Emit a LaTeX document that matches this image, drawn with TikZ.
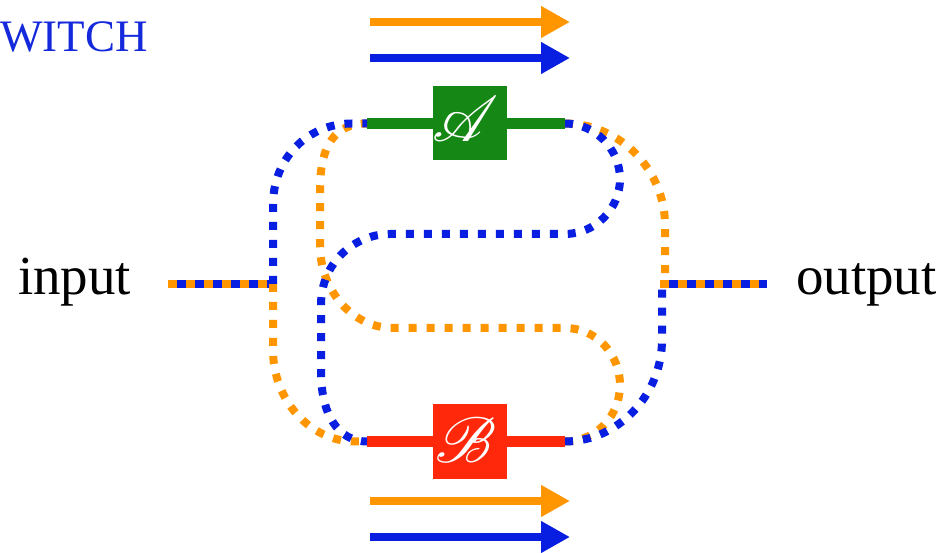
\documentclass[tikz,border=0pt]{standalone}
\usepackage{fontspec}
\setmainfont{Liberation Serif}
\usepackage{mathrsfs}
\usetikzlibrary{arrows.meta}

\definecolor{qblue}{RGB}{8,30,225}
\definecolor{qorange}{RGB}{255,150,0}
\definecolor{qgreen}{RGB}{20,135,20}
\definecolor{qred}{RGB}{255,40,10}
\definecolor{titleblue}{RGB}{20,40,220}

\newcommand{\gateletter}[1]{\scalebox{6.4}{$\mathscr{#1}$}}

\tikzset{
  dotwire/.style={line width=8pt, dash pattern=on 8pt off 10pt},
  bluewire/.style={dotwire, draw=qblue},
  orangewire/.style={dotwire, draw=qorange},
  gatebox/.style={rectangle, minimum size=74pt, inner sep=0pt, text=white,
    font=\normalsize},
  gatewire/.style={line width=11pt},
  flow/.style={line width=8pt, -{Triangle[length=29pt,width=30pt]}},
  wordtext/.style={anchor=base west, inner sep=0pt, font=\fontsize{55}{55}\selectfont},
}

\begin{document}
\begin{tikzpicture}[x=1pt, y=-1pt]
  \useasboundingbox (0,0) rectangle (946,553);
  \fill[white] (0,0) rectangle (946,553);

  % title, partly off the left edge
  \node[anchor=base west, inner sep=0pt, text=titleblue,
        font=\fontsize{45}{45}\selectfont] (title) at (0,52) {WITCH};

  % wire ends of the two gates and the junctions
  \coordinate (Aw) at (367,123.5);
  \coordinate (Ae) at (565,123.5);
  \coordinate (Bw) at (367,441.5);
  \coordinate (Be) at (565,441.5);
  \coordinate (inS) at (168,284);
  \coordinate (inJ) at (273,284);
  \coordinate (outS) at (660,284);
  \coordinate (outE) at (767,284);
  \coordinate (outJb) at (662,284);
  \coordinate (outJo) at (665,284);

  % gate wires
  \draw[gatewire, qgreen] (Aw) -- (Ae);
  \draw[gatewire, qred] (Bw) -- (Be);

  % gates
  \node[gatebox, fill=qgreen] (A) at (470,123.5) {};
  \node[gatebox, fill=qred] (B) at (470,441.5) {};
  \node[text=white, inner sep=0pt] (Aletter) at (466,119) {\gateletter{A}};
  \node[text=white, inner sep=0pt] (Bletter) at (466,440) {\gateletter{B}};

  % input and output labels
  \node[wordtext] (input) at (18,295) {input};
  \node[wordtext] (output) at (796,295) {output};

  % striped input and output wires
  \draw[line width=8pt, qorange] (inS) -- (inJ);
  \draw[line width=8pt, qblue, dash pattern=on 9pt off 9pt, dash phase=9pt] (inS) -- (inJ);
  \draw[line width=8pt, qorange] (outS) -- (outE);
  \draw[line width=8pt, qblue, dash pattern=on 9pt off 9pt, dash phase=9pt] (outS) -- (outE);

  % orange: input -> B -> A -> output
  \draw[orangewire] (inJ) -- (273,350) .. controls (273,400) and (310,441.5) .. (355,441.5) -- (Bw);
  \draw[orangewire] (Be) .. controls (596,441.5) and (620,416) .. (620,385)
        .. controls (620,354) and (596,328) .. (565,328) -- (393,328)
        .. controls (353,328) and (320,291) .. (320,245) -- (320,190)
        .. controls (320,145) and (335,123.5) .. (Aw);
  \draw[orangewire] (Ae) .. controls (620,123.5) and (665,170) .. (665,225) -- (outJo);

  % blue: input -> A -> B -> output
  \draw[bluewire] (inJ) -- (273,205) .. controls (273,158) and (308,123.5) .. (352,123.5) -- (Aw);
  \draw[bluewire] (Ae) .. controls (595,123.5) and (620,149) .. (620,179)
        .. controls (620,209) and (595,234) .. (565,234) -- (390,234)
        .. controls (355,234) and (321,262) .. (321,305) -- (321,372)
        .. controls (321,414) and (338,441.5) .. (Bw);
  \draw[bluewire] (Be) .. controls (618,441.5) and (662,395) .. (662,340) -- (outJb);

  % flow arrows above and below
  \coordinate (tos) at (370,22);  \coordinate (toe) at (570,22);
  \coordinate (tbs) at (370,58);  \coordinate (tbe) at (570,58);
  \coordinate (bos) at (370,501); \coordinate (boe) at (570,501);
  \coordinate (bbs) at (370,537); \coordinate (bbe) at (570,537);
  \draw[flow, qorange] (tos) -- (toe);
  \draw[flow, qblue] (tbs) -- (tbe);
  \draw[flow, qorange] (bos) -- (boe);
  \draw[flow, qblue] (bbs) -- (bbe);
\end{tikzpicture}
\end{document}
